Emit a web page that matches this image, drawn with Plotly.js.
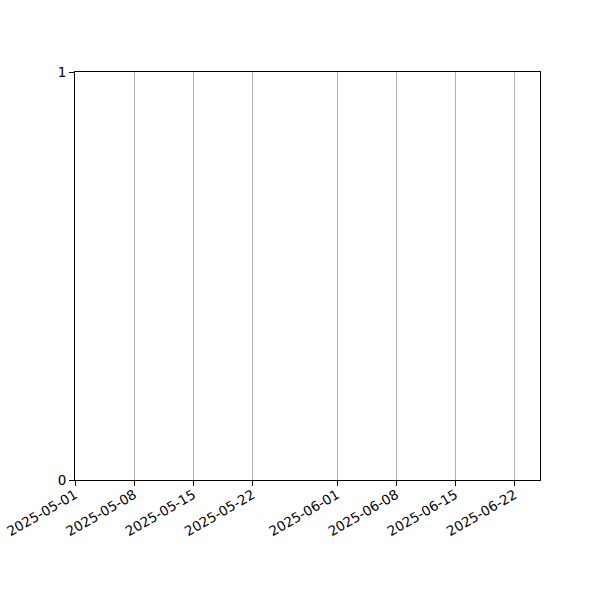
<!DOCTYPE html>
<html>
<head>
<meta charset="utf-8">
<script src="https://cdn.plot.ly/plotly-3.0.1.min.js"></script>
<style>
  html, body { margin: 0; padding: 0; background: #fff; }
  #chart { width: 600px; height: 600px; }
</style>
</head>
<body>
<div id="chart"></div>
<script>
// the series is empty: only the axes are drawn
const dates = []
const values = []

const xRange = ['2025-05-01', '2025-06-25']
const tickDates = ['2025-05-01', '2025-05-08', '2025-05-15', '2025-05-22',
                   '2025-06-01', '2025-06-08', '2025-06-15', '2025-06-22']
const yTicks = [0, 1]

let trace0 = {
    type: 'scatter',
    mode: 'lines',
    x: dates,
    y: values,
    line: { color: '#1f77b4', width: 1.5 },
    showlegend: false
}

let layout = {
    width: 600,
    height: 600,
    margin: { l: 75, r: 60, t: 72, b: 120 },
    paper_bgcolor: '#fff',
    plot_bgcolor: '#fff',
    font: { family: 'DejaVu Sans', size: 13.5, color: '#000' },
    showlegend: false,
    xaxis: {
        type: 'date',
        range: xRange,
        tickmode: 'array',
        tickvals: tickDates,
        ticktext: tickDates,
        tickangle: -30,
        ticks: 'outside',
        ticklen: 5,
        tickwidth: 1,
        tickcolor: '#000',
        ticklabelstandoff: -4,
        showgrid: true,
        gridcolor: '#b0b0b0',
        gridwidth: 1,
        showline: true,
        linecolor: '#000',
        linewidth: 1,
        mirror: true,
        zeroline: false
    },
    yaxis: {
        range: [0, 1],
        tickmode: 'array',
        tickvals: yTicks,
        ticktext: yTicks.map(String),
        ticks: 'outside',
        ticklen: 5,
        tickwidth: 1,
        tickcolor: '#000',
        showgrid: false,
        showline: true,
        linecolor: '#000',
        linewidth: 1,
        mirror: true,
        zeroline: false
    }
}

Plotly.newPlot('chart', [trace0], layout, { staticPlot: true, displayModeBar: false })
</script>
</body>
</html>
